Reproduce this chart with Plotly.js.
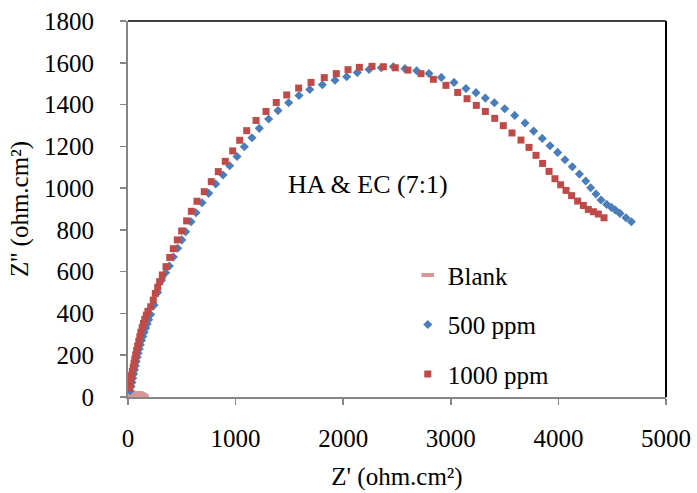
<!DOCTYPE html>
<html>
<head>
<meta charset="utf-8">
<script src="https://cdn.plot.ly/plotly-3.0.1.min.js"></script>
<style>html,body{margin:0;padding:0;background:#fff;}</style>
</head>
<body>
<div id="chart" style="width:697px;height:493px;"></div>
<script>
// Blank
var blankX = [8, 15, 25, 35, 45, 55, 65, 75, 85, 95, 105, 115, 125, 135];
var blankY = [3, 7, 11, 14, 16, 18, 19, 19, 18, 16, 13, 10, 6, 3];

// 500 ppm
var ppm500X = [20, 28, 36, 44, 52, 60, 68, 76, 85, 94, 104, 114, 125, 137, 150, 164, 178, 192, 210, 242, 275, 313, 350, 384, 422, 462, 500, 536, 586, 632, 688, 750, 815, 883, 945, 1013, 1081, 1152, 1220, 1307, 1394, 1493, 1589, 1689, 1806, 1924, 2032, 2131, 2240, 2354, 2466, 2574, 2683, 2797, 2912, 3030, 3141, 3234, 3321, 3405, 3501, 3594, 3690, 3770, 3850, 3922, 3993, 4061, 4129, 4195, 4254, 4300, 4349, 4396, 4449, 4492, 4529, 4572, 4628, 4678];
var ppm500Y = [30, 50, 70, 90, 110, 130, 150, 170, 190, 210, 230, 250, 270, 290, 310, 330, 350, 370, 395, 440, 500, 560, 595, 627, 670, 712, 752, 791, 839, 882, 930, 975, 1020, 1063, 1107, 1151, 1198, 1241, 1286, 1331, 1371, 1409, 1443, 1472, 1495, 1516, 1533, 1553, 1568, 1576, 1581, 1572, 1562, 1549, 1530, 1506, 1477, 1457, 1431, 1409, 1380, 1348, 1312, 1273, 1238, 1203, 1171, 1136, 1102, 1067, 1034, 1002, 972, 943, 922, 908, 895, 879, 858, 839];

// 1000 ppm
var ppm1000X = [12, 18, 25, 32, 40, 48, 56, 64, 72, 80, 90, 100, 110, 120, 132, 144, 156, 170, 185, 211, 235, 254, 276, 294, 319, 353, 388, 421, 458, 499, 545, 589, 641, 709, 774, 839, 904, 973, 1038, 1103, 1190, 1283, 1378, 1475, 1586, 1701, 1824, 1936, 2045, 2150, 2268, 2373, 2484, 2602, 2723, 2838, 2955, 3064, 3151, 3237, 3321, 3408, 3488, 3569, 3652, 3727, 3792, 3853, 3913, 3968, 4021, 4071, 4123, 4179, 4232, 4278, 4325, 4371, 4424];
var ppm1000Y = [42, 62, 82, 102, 122, 142, 162, 182, 202, 222, 244, 266, 288, 310, 332, 352, 372, 392, 410, 432, 464, 496, 525, 552, 584, 624, 668, 710, 752, 795, 843, 889, 937, 983, 1031, 1079, 1128, 1178, 1229, 1275, 1324, 1367, 1410, 1446, 1479, 1506, 1529, 1548, 1567, 1578, 1583, 1581, 1576, 1565, 1548, 1521, 1492, 1458, 1428, 1396, 1367, 1334, 1299, 1264, 1230, 1195, 1157, 1118, 1080, 1045, 1016, 989, 964, 938, 917, 898, 887, 876, 858];

var xTicks = [0, 1000, 2000, 3000, 4000, 5000];
var yTicks = [0, 200, 400, 600, 800, 1000, 1200, 1400, 1600, 1800];

var serif = "'Liberation Serif', 'Times New Roman', Times, serif";
var fs = 25;

var traces = [
  {x: blankX, y: blankY, type: 'scatter', mode: 'markers', name: 'Blank', legendgroup: 'a',
   marker: {symbol: 'line-ew', size: 9, color: '#D99694', line: {width: 4, color: '#D99694'}}},
  {x: ppm500X, y: ppm500Y, type: 'scatter', mode: 'markers', name: '500 ppm', legendgroup: 'b',
   marker: {symbol: 'diamond', size: 7, color: '#4A7EBB', line: {width: 0}}},
  {x: ppm1000X, y: ppm1000Y, type: 'scatter', mode: 'markers', name: '1000 ppm', legendgroup: 'c',
   marker: {symbol: 'square', size: 7, color: '#BE4B48', line: {width: 0}}}
];

var layout = {
  width: 697, height: 493,
  margin: {l: 128, r: 31, t: 21, b: 96},
  paper_bgcolor: '#fff', plot_bgcolor: '#fff',
  font: {family: serif, size: fs, color: '#000'},
  showlegend: true,
  legend: {x: 0.52, y: 0.385, xanchor: 'left', yanchor: 'top', bgcolor: 'rgba(0,0,0,0)',
           font: {family: serif, size: fs, color: '#000'}, tracegroupgap: 14, traceorder: 'grouped',
           itemwidth: 30},
  xaxis: {range: [0, 5000], tickvals: xTicks, ticktext: xTicks.map(String), showgrid: false, zeroline: false,
          showline: true, linecolor: '#868686', linewidth: 2, ticks: 'outside', ticklen: 6, tickcolor: '#868686', tickwidth: 1.5,
          ticklabelstandoff: 12,
          tickfont: {family: serif, size: fs, color: '#000'},
          title: {text: "Z' (ohm.cm²)", font: {family: serif, size: fs, color: '#000'}, standoff: 16}},
  yaxis: {range: [0, 1800], tickvals: yTicks, ticktext: yTicks.map(String), showgrid: false, zeroline: false,
          showline: true, linecolor: '#868686', linewidth: 2, ticks: 'outside', ticklen: 6, tickcolor: '#868686', tickwidth: 1.5,
          ticklabelstandoff: 21,
          tickfont: {family: serif, size: fs, color: '#000'},
          title: {text: "Z'' (ohm.cm²)", font: {family: serif, size: fs, color: '#000'}, standoff: 8}},
  shapes: [
    {type: 'line', xref: 'paper', yref: 'paper', x0: 0, x1: 1, y0: 1, y1: 1, line: {color: '#000', width: 1.5}},
    {type: 'line', xref: 'paper', yref: 'paper', x0: 1, x1: 1, y0: 0, y1: 1, line: {color: '#000', width: 2}}
  ],
  annotations: [
    {text: 'HA & EC (7:1)', xref: 'paper', yref: 'paper', x: 0.446, y: 0.564, showarrow: false,
     xanchor: 'center', yanchor: 'middle', font: {family: serif, size: 26, color: '#000'}}
  ]
};

Plotly.newPlot('chart', traces, layout, {displayModeBar: false, staticPlot: true});
</script>
</body>
</html>
